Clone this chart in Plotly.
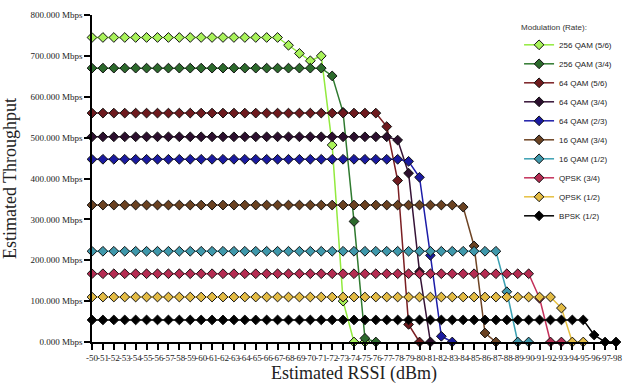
import plotly.graph_objects as go

# ---- data ----
rssi = [-50, -51, -52, -53, -54, -55, -56, -57, -58, -59, -60, -61, -62, -63, -64, -65, -66,
        -67, -68, -69, -70, -71, -72, -73, -74, -75, -76, -77, -78, -79, -80, -81, -82, -83,
        -84, -85, -86, -87, -88, -89, -90, -91, -92, -93, -94, -95, -96, -97, -98]
rssi_labels = ["-50", "-51", "-52", "-53", "-54", "-55", "-56", "-57", "-58", "-59", "-60",
               "-61", "-62", "-63", "-64", "-65", "-66", "-67", "-68", "-69", "-70", "-71",
               "-72", "-73", "-74", "-75", "-76", "-77", "-78", "-79", "-80", "-81", "-82",
               "-83", "-84", "-85", "-86", "-87", "-88", "-89", "-90", "-91", "-92", "-93",
               "-94", "-95", "-96", "-97", "-98"]

series_names = ["256 QAM (5/6)", "256 QAM (3/4)", "64 QAM (5/6)", "64 QAM (3/4)",
                "64 QAM (2/3)", "16 QAM (3/4)", "16 QAM (1/2)", "QPSK (3/4)",
                "QPSK (1/2)", "BPSK (1/2)"]

qam256_56 = [745, 745, 745, 745, 745, 745, 745, 745, 745, 745, 745, 745, 745, 745, 745, 745,
             745, 745, 726, 706, 688, 700, 482, 100, 0, 0]
qam256_34 = [670, 670, 670, 670, 670, 670, 670, 670, 670, 670, 670, 670, 670, 670, 670, 670,
             670, 670, 670, 670, 670, 670, 651, 562, 295, 9, 0]
qam64_56 = [560, 560, 560, 560, 560, 560, 560, 560, 560, 560, 560, 560, 560, 560, 560, 560,
            560, 560, 560, 560, 560, 560, 560, 560, 560, 560, 560, 527, 395, 43, 0]
qam64_34 = [502, 502, 502, 502, 502, 502, 502, 502, 502, 502, 502, 502, 502, 502, 502, 502,
            502, 502, 502, 502, 502, 502, 502, 502, 502, 502, 502, 502, 494, 413, 172, 0]
qam64_23 = [447, 447, 447, 447, 447, 447, 447, 447, 447, 447, 447, 447, 447, 447, 447, 447,
            447, 447, 447, 447, 447, 447, 447, 447, 447, 447, 447, 447, 447, 442, 403, 212,
            14, 0]
qam16_34 = [335, 335, 335, 335, 335, 335, 335, 335, 335, 335, 335, 335, 335, 335, 335, 335,
            335, 335, 335, 335, 335, 335, 335, 335, 335, 335, 335, 335, 335, 335, 335, 335,
            335, 335, 330, 235, 22, 0]
qam16_12 = [222, 222, 222, 222, 222, 222, 222, 222, 222, 222, 222, 222, 222, 222, 222, 222,
            222, 222, 222, 222, 222, 222, 222, 222, 222, 222, 222, 222, 222, 222, 222, 222,
            222, 222, 222, 222, 222, 222, 123, 0, 0]
qpsk_34 = [167, 167, 167, 167, 167, 167, 167, 167, 167, 167, 167, 167, 167, 167, 167, 167,
           167, 167, 167, 167, 167, 167, 167, 167, 167, 167, 167, 167, 167, 167, 167, 167,
           167, 167, 167, 167, 167, 167, 167, 167, 167, 107, 0, 0]
qpsk_12 = [110, 110, 110, 110, 110, 110, 110, 110, 110, 110, 110, 110, 110, 110, 110, 110,
           110, 110, 110, 110, 110, 110, 110, 110, 110, 110, 110, 110, 110, 110, 110, 110,
           110, 110, 110, 110, 110, 110, 110, 110, 110, 110, 110, 83, 0, 0]
bpsk_12 = [54, 54, 54, 54, 54, 54, 54, 54, 54, 54, 54, 54, 54, 54, 54, 54, 54, 54, 54, 54,
           54, 54, 54, 54, 54, 54, 54, 54, 54, 54, 54, 54, 54, 54, 54, 54, 54, 54, 54, 54,
           54, 54, 54, 54, 54, 54, 17, 0, 0]

y_ticks = [0, 100, 200, 300, 400, 500, 600, 700, 800]
y_tick_labels = ["0.000 Mbps", "100.000 Mbps", "200.000 Mbps", "300.000 Mbps",
                 "400.000 Mbps", "500.000 Mbps", "600.000 Mbps", "700.000 Mbps",
                 "800.000 Mbps"]

# ---- styling ----
series_values = [qam256_56, qam256_34, qam64_56, qam64_34, qam64_23,
                 qam16_34, qam16_12, qpsk_34, qpsk_12, bpsk_12]
line_colors = ["#92ea3e", "#2f7a2f", "#7a1e22", "#351236", "#1c1ca8",
               "#6e4424", "#3aa0b2", "#c4305a", "#e6c040", "#000000"]
marker_colors = ["#a8f25a", "#2c6a2c", "#6e1a1e", "#2c0f2e", "#1a1aa0",
                 "#6a4222", "#3f98ab", "#b52c52", "#e3bb44", "#000000"]

fig = go.Figure()
for name, vals, lc, mc in zip(series_names, series_values, line_colors, marker_colors):
    fig.add_trace(go.Scatter(
        x=rssi[:len(vals)], y=vals, name=name, mode="lines+markers",
        line=dict(color=lc, width=1.5),
        marker=dict(symbol="diamond", size=7.5, color=mc,
                    line=dict(color="#111111", width=1)),
        cliponaxis=False,
    ))

serif = "Liberation Serif, Times New Roman, serif"
sans = "Liberation Sans, Arial, sans-serif"
fig.update_layout(
    width=624, height=390,
    margin=dict(l=92, r=8, t=15, b=48, autoexpand=False),
    paper_bgcolor="white", plot_bgcolor="white",
    showlegend=True,
    legend=dict(
        title=dict(text="Modulation (Rate):", font=dict(size=8, color="#333333", family=sans)),
        font=dict(size=8, color="#222222", family=sans),
        x=0.815, xanchor="left", y=0.985, yanchor="top",
        bgcolor="rgba(0,0,0,0)", itemclick=False, itemdoubleclick=False,
        tracegroupgap=0,
    ),
    xaxis=dict(
        range=[rssi[0], rssi[-1]], automargin=False,
        tickmode="array", tickvals=rssi, ticktext=rssi_labels,
        tickangle=0,
        ticks="outside", ticklen=6, tickwidth=1.5, tickcolor="black",
        showline=True, linecolor="black", linewidth=1.5,
        showgrid=False, zeroline=False,
        tickfont=dict(family=serif, size=9, color="#222222"),
        title=dict(text="Estimated RSSI (dBm)", font=dict(family=serif, size=18, color="#222222"),
                   standoff=2),
    ),
    yaxis=dict(
        range=[0, 800], automargin=False,
        tickmode="array", tickvals=y_ticks, ticktext=y_tick_labels,
        ticks="outside", ticklen=6, tickwidth=1.5, tickcolor="black",
        showline=True, linecolor="black", linewidth=1.5,
        showgrid=False, zeroline=False,
        tickfont=dict(family=serif, size=9, color="#222222"),
        title=dict(text="Estimated Throughput", font=dict(family=serif, size=18, color="#222222"),
                   standoff=12),
    ),
)

fig.write_html("out.html", config={"displayModeBar": False},
               post_script="document.body.style.margin='0px';")
